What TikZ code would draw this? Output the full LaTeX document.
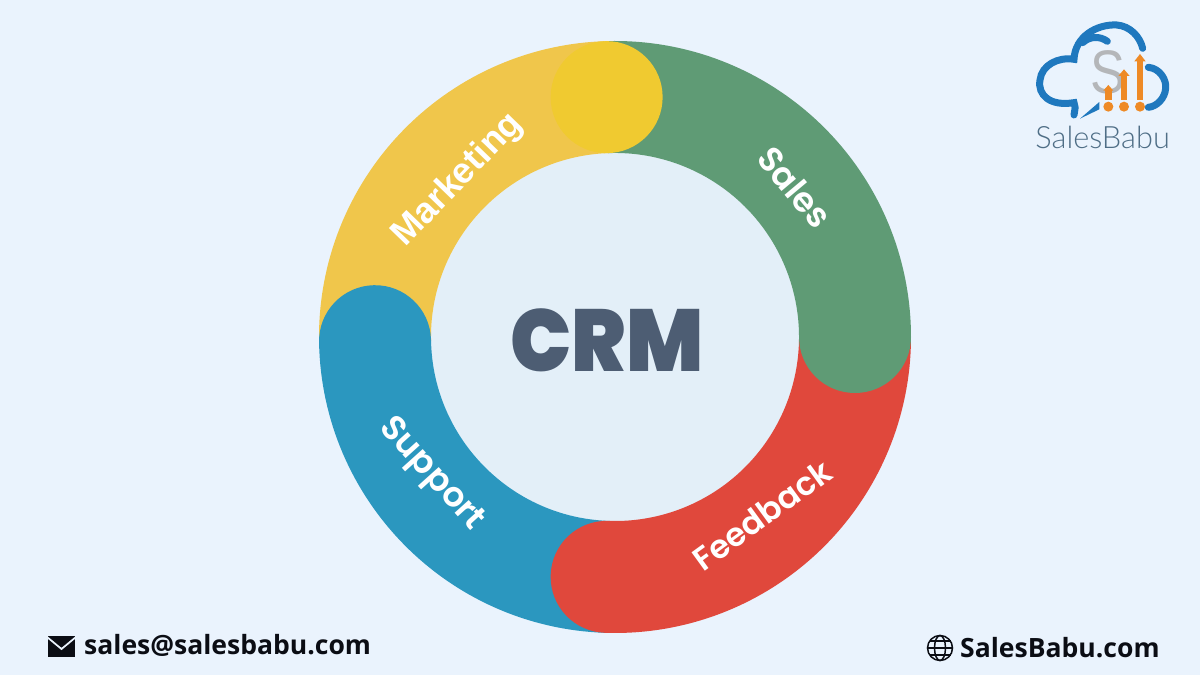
\documentclass[tikz,border=0pt]{standalone}
\usepackage{fontspec}
\usepackage{xcolor}
\usetikzlibrary{calc}
\setmainfont{Open Sans}
\newfontfamily\bandfont{Liberation Sans}
\newfontfamily\bandsoft{Poppins SemiBold}
\newfontfamily\crmfont{Poppins Black}
\newfontfamily\logofont{Lato Light}
\definecolor{bgpage}{HTML}{EAF3FD}
\definecolor{bginner}{HTML}{E3EFF8}
\definecolor{yellowband}{HTML}{F0C64B}
\definecolor{yellowcap}{HTML}{F0CA30}
\definecolor{greenband}{HTML}{5F9B75}
\definecolor{redband}{HTML}{E0483C}
\definecolor{blueband}{HTML}{2B97BF}
\definecolor{crmtext}{HTML}{4D5D73}
\definecolor{logoblue}{HTML}{1F78BE}
\definecolor{logoorange}{HTML}{EE8A26}
\definecolor{logogray}{HTML}{B4B6B9}
\definecolor{logotext}{HTML}{4F6E86}
\definecolor{inkblack}{HTML}{0B0D14}
\tikzset{
  band/.style={line width=2.24cm},
  roundband/.style={band, line cap=round},
  lbl/.style={text=white, font=\bandfont\bfseries\fontsize{20.5}{24}\selectfont},
  softlbl/.style={text=white, font=\bandsoft\fontsize{19.5}{22}\selectfont},
  contact/.style={text=inkblack, font=\bfseries\fontsize{15.1}{18}\selectfont, anchor=west},
  cloudline/.style={draw=logoblue, line width=1.4mm, line cap=round},
  barline/.style={draw=logoorange, line width=1.3mm},
  bardot/.style={circle, fill=logoorange, inner sep=0pt, minimum size=0.2cm},
  globeline/.style={draw=inkblack, line width=0.3mm}
}
\begin{document}
\begin{tikzpicture}[x=0.02cm,y=0.02cm]
  \useasboundingbox (0,0) rectangle (1200,675);
  \fill[bgpage] (0,0) rectangle (1200,675);
  \coordinate (C) at (615,338);

  % ring
  \fill[bginner] (C) circle (184);
  \draw[band, yellowband] ($(C)+(181:240)$) arc (181:92:240);
  \draw[roundband, blueband] ($(C)+(268:240)$) arc (268:181:240);
  \draw[roundband, redband] ($(C)+(0:240)$) arc (360:268:240);
  \draw[band, greenband] ($(C)+(92:240)$) arc (92:0:240);
  \fill[greenband] ($(C)+(0:240)$) circle (56);
  \fill[yellowcap] ($(C)+(92:240)$) circle (56);

  % labels
  \node[lbl, rotate=46] (marketing) at (458,495) {Marketing};
  \node[softlbl, rotate=-50] (sales) at (795,488) {Sales};
  \node[softlbl, rotate=-48] (support) at (431,200) {Support};
  \node[softlbl, rotate=36, font=\bandsoft\fontsize{18.5}{22}\selectfont] (feedback) at (762,160) {Feedback};
  \node[text=crmtext, xscale=0.925, font=\crmfont\fontsize{50}{54}\selectfont] (crm) at (607,335) {CRM};

  % contact lines
  \node[contact] (mail) at (78,30) {sales@salesbabu.com};
  \node[contact] (site) at (954,27) {SalesBabu.com};
  \fill[inkblack] (48,18) rectangle (75,39);
  \draw[bgpage, line width=0.35mm] (47,38) -- (61.5,26) -- (76,38);
  \coordinate (G) at (940,27);
  \draw[globeline] (G) circle (12.5);
  \draw[globeline] (G) ellipse (5.5 and 12.5);
  \draw[globeline] (927.5,27) -- (952.5,27);
  \draw[globeline] (929.5,34) -- (950.5,34);
  \draw[globeline] (929.5,20) -- (950.5,20);

  % logo, in crop units
  \begin{scope}[shift={(1000,675)},x=0.02cm/3,y=-0.02cm/3]
    \draw[cloudline] (222,345) .. controls (225,325) and (228,318) .. (222,308)
      .. controls (150,320) and (112,285) .. (120,240)
      .. controls (125,195) and (175,170) .. (222,178)
      .. controls (225,110) and (290,72) .. (350,75)
      .. controls (390,78) and (420,110) .. (428,145);
    \draw[cloudline] (248,128) .. controls (270,108) and (300,108) .. (322,124);
    \draw[cloudline] (445,202) .. controls (480,205) and (500,240) .. (497,265)
      .. controls (495,295) and (470,320) .. (445,322);
    \fill[logoblue] (240,356) -- (298,306) -- (298,328) -- cycle;
    \node[text=logogray, xscale=0.85, font=\bandfont\fontsize{35}{38}\selectfont] (logoS) at (325,218) {S};
    \draw[barline] (325,300) -- (325,270);
    \draw[barline] (372,300) -- (372,225);
    \draw[barline] (420,300) -- (420,180);
    \fill[logoorange] (310,272) -- (325,255) -- (340,272) -- cycle;
    \fill[logoorange] (355,228) -- (372,208) -- (389,228) -- cycle;
    \fill[logoorange] (403,184) -- (420,162) -- (437,184) -- cycle;
    \node[bardot] (dotA) at (325,320) {};
    \node[bardot] (dotB) at (372,320) {};
    \node[bardot] (dotC) at (420,320) {};
    \node[text=logotext, font=\logofont\fontsize{17.5}{20}\selectfont] (logotext) at (308,412) {SalesBabu};
  \end{scope}
\end{tikzpicture}
\end{document}
